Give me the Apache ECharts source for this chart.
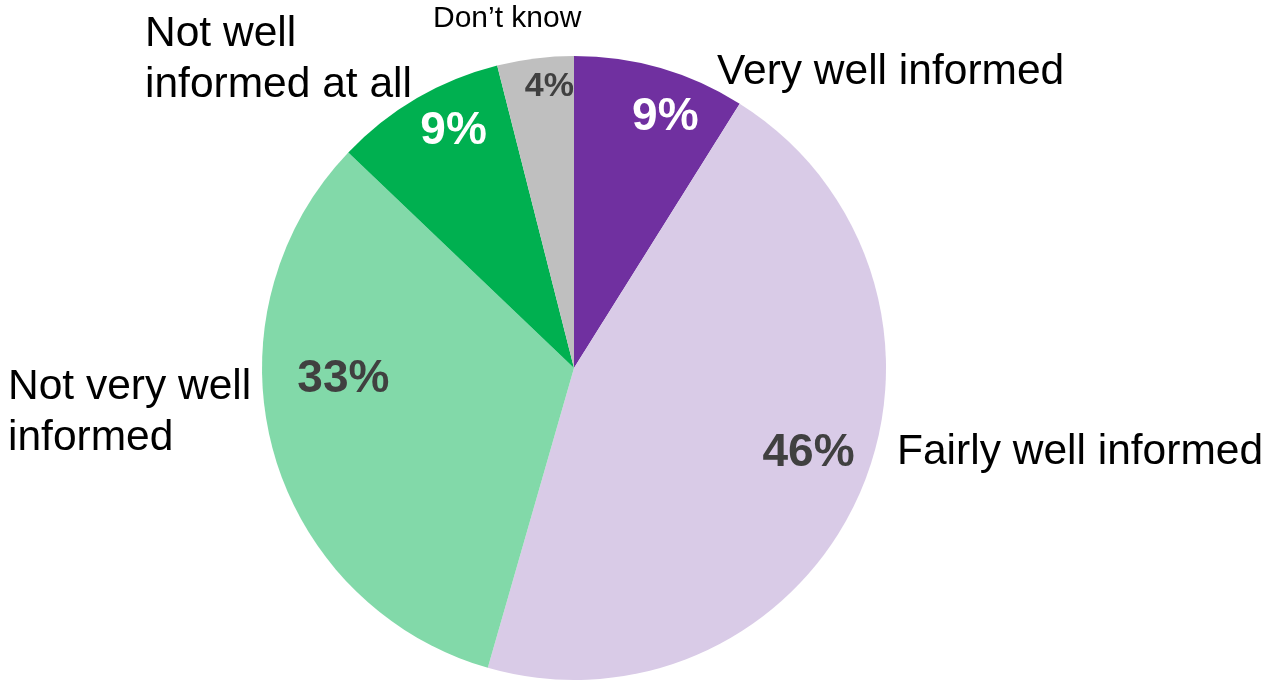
<!DOCTYPE html>
<html>
<head>
<meta charset="utf-8">
<script src="https://cdn.jsdelivr.net/npm/echarts@6/dist/echarts.min.js"></script>
<style>html,body{margin:0;padding:0;background:#fff;}#c{width:1263px;height:682px;}</style>
</head>
<body>
<div id="c"></div>
<script>
const categories = ['Very well informed', 'Fairly well informed', 'Not very well informed', 'Not well informed at all', 'Don\u2019t know'];
const values = [9, 46, 33, 9, 4];
const nameLabels = ['Very well informed', 'Fairly well informed', 'Not very well\ninformed', 'Not well\ninformed at all', 'Don\u2019t know'];
const colors = ['#7030A0', '#D9CBE7', '#82D9A9', '#00B050', '#BFBFBF'];
const pctColors = ['#FFFFFF', '#404040', '#404040', '#FFFFFF', '#404040'];

const chart = echarts.init(document.getElementById('c'), null, {renderer: 'canvas'});
const CX = 574, CY = 368, R = 312;
// percent label placement: [angle clockwise from top (deg), fraction of radius]
const pctPlace = [[20, 0.856], [110, 0.80], [267.3, 0.74], [333, 0.85], [355, 0.905]];
const pctSize = [46, 46, 46, 46, 34];
// name label placement: offsets from pie centre (left edge, middle)
const namePlace = [[143, -296], [323, 84], [-566, 45], [-429, -308], [-141, -349]];
const nameSize = [42.5, 42.5, 42.5, 42.5, 30];

const data = categories.map((c, i) => ({
  name: c, value: values[i],
  itemStyle: {color: colors[i]},
  label: {color: pctColors[i], fontSize: pctSize[i]}
}));
const data2 = categories.map((c, i) => ({
  name: c, value: values[i],
  itemStyle: {color: 'rgba(0,0,0,0)'},
  label: {fontSize: nameSize[i], lineHeight: nameSize[i] * 1.2}
}));

chart.setOption({
  animation: false,
  backgroundColor: '#ffffff',
  series: [{
    type: 'pie',
    center: [CX, CY],
    radius: [0, R],
    startAngle: 90,
    clockwise: true,
    avoidLabelOverlap: false,
    itemStyle: {borderWidth: 0},
    label: {
      show: true, position: 'inside',
      formatter: p => p.value + '%',
      fontFamily: 'Liberation Sans, Arial, sans-serif',
      fontWeight: 'bold'
    },
    labelLine: {show: false},
    labelLayout: p => {
      const a = pctPlace[p.dataIndex][0] * Math.PI / 180;
      const f = pctPlace[p.dataIndex][1];
      return {x: CX + R * f * Math.sin(a), y: CY - R * f * Math.cos(a), align: 'center', verticalAlign: 'middle'};
    },
    data: data
  }, {
    type: 'pie',
    center: [CX, CY],
    radius: [0, R],
    startAngle: 90,
    clockwise: true,
    silent: true,
    avoidLabelOverlap: false,
    z: 3,
    label: {
      show: true, position: 'inside',
      formatter: p => nameLabels[p.dataIndex],
      color: '#000000',
      fontFamily: 'Liberation Sans, Arial, sans-serif',
      fontWeight: 'normal'
    },
    labelLine: {show: false},
    labelLayout: p => {
      const o = namePlace[p.dataIndex];
      return {x: CX + o[0], y: CY + o[1], align: 'left', verticalAlign: 'middle'};
    },
    data: data2
  }]
});
</script>
</body>
</html>
